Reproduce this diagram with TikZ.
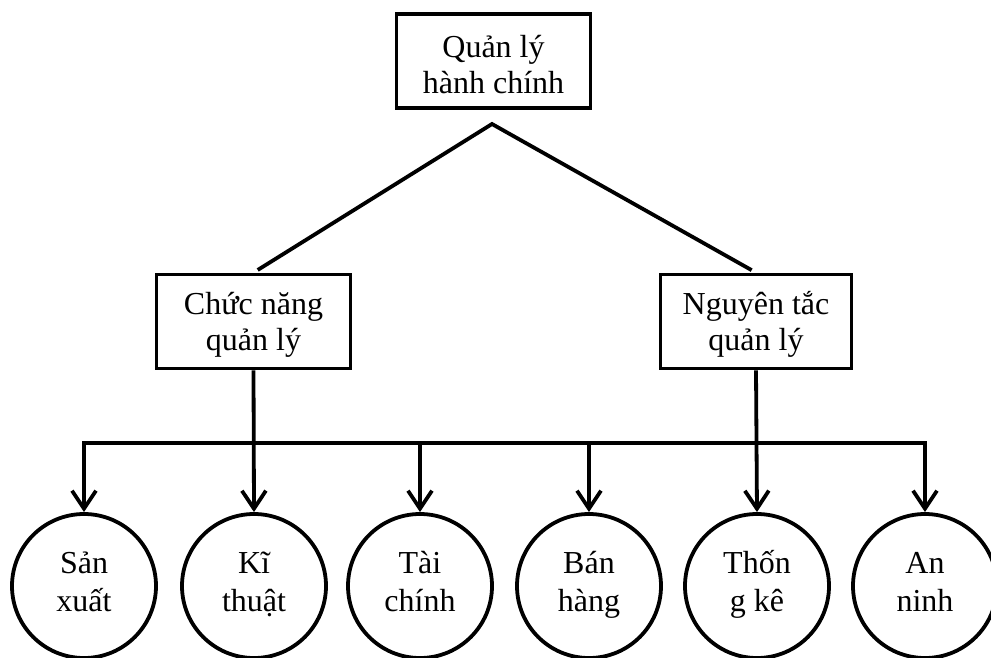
\documentclass[tikz,border=0pt]{standalone}
\usepackage{fontspec}
\setmainfont{Liberation Serif}
\usetikzlibrary{arrows.meta}
% two centred lines with fixed strut height (first line) and depth (last line)
\newcommand\twoln[4]{\rule{0pt}{#1pt}#3\\#4\rule[-#2pt]{0pt}{#2pt}}
\begin{document}
\begin{tikzpicture}[x=1pt,y=-1pt,
  line width=3.8pt,
  every node/.style={align=center, inner sep=0pt},
  orgbox/.style={draw, rectangle, minimum height=94pt, font=\fontsize{32}{36}\selectfont},
  unit/.style={draw, circle, minimum size=144pt, font=\fontsize{32}{38}\selectfont},
  tip/.tip={Straight Barb[length=18pt,width=24pt]},
  link/.style={-tip, line join=miter}
]
\useasboundingbox (0,0) rectangle (991,657);
\clip (0,0) rectangle (991,657);

% management boxes
\node[orgbox, minimum width=194pt] (top)  at (493.5,61)    {\twoln{30}{2}{Quản lý}{hành chính}};
\node[orgbox, minimum width=194pt] (lbox) at (253.5,321.5) {\twoln{28}{5}{Chức năng}{quản lý}};
\node[orgbox, minimum width=191pt] (rbox) at (756,321.5)   {\twoln{28}{5}{Nguyên tắc}{quản lý}};

% functional units
\node[unit] (c1) at (84,586)  {\twoln{24}{12}{Sản}{xuất}};
\node[unit] (c2) at (254,586) {\twoln{24}{12}{Kĩ}{thuật}};
\node[unit] (c3) at (420,586) {\twoln{24}{12}{Tài}{chính}};
\node[unit] (c4) at (589,586) {\twoln{24}{12}{Bán}{hàng}};
\node[unit] (c5) at (757,586) {\twoln{24}{12}{Thốn}{g kê}};
\node[unit] (c6) at (925,586) {\twoln{24}{12}{An}{ninh}};

% branches below the top box
\coordinate (apex) at (492,124);
\draw[shorten <=5pt, shorten >=5pt] (lbox.north) -- (apex) -- (rbox.north);

% distribution bar
\coordinate (b1) at (c1 |- 0,443);
\coordinate (b3) at (c3 |- 0,443);
\coordinate (b4) at (c4 |- 0,443);
\coordinate (b6) at (c6 |- 0,443);
\draw[tip-tip, line join=miter] (c1.north) -- (b1) -- (b6) -- (c6.north);
\draw[link] (b3) -- (c3.north);
\draw[link] (b4) -- (c4.north);
\draw[link] (lbox.south) -- (c2.north);
\draw[link] (rbox.south) -- (c5.north);
\end{tikzpicture}
\end{document}
